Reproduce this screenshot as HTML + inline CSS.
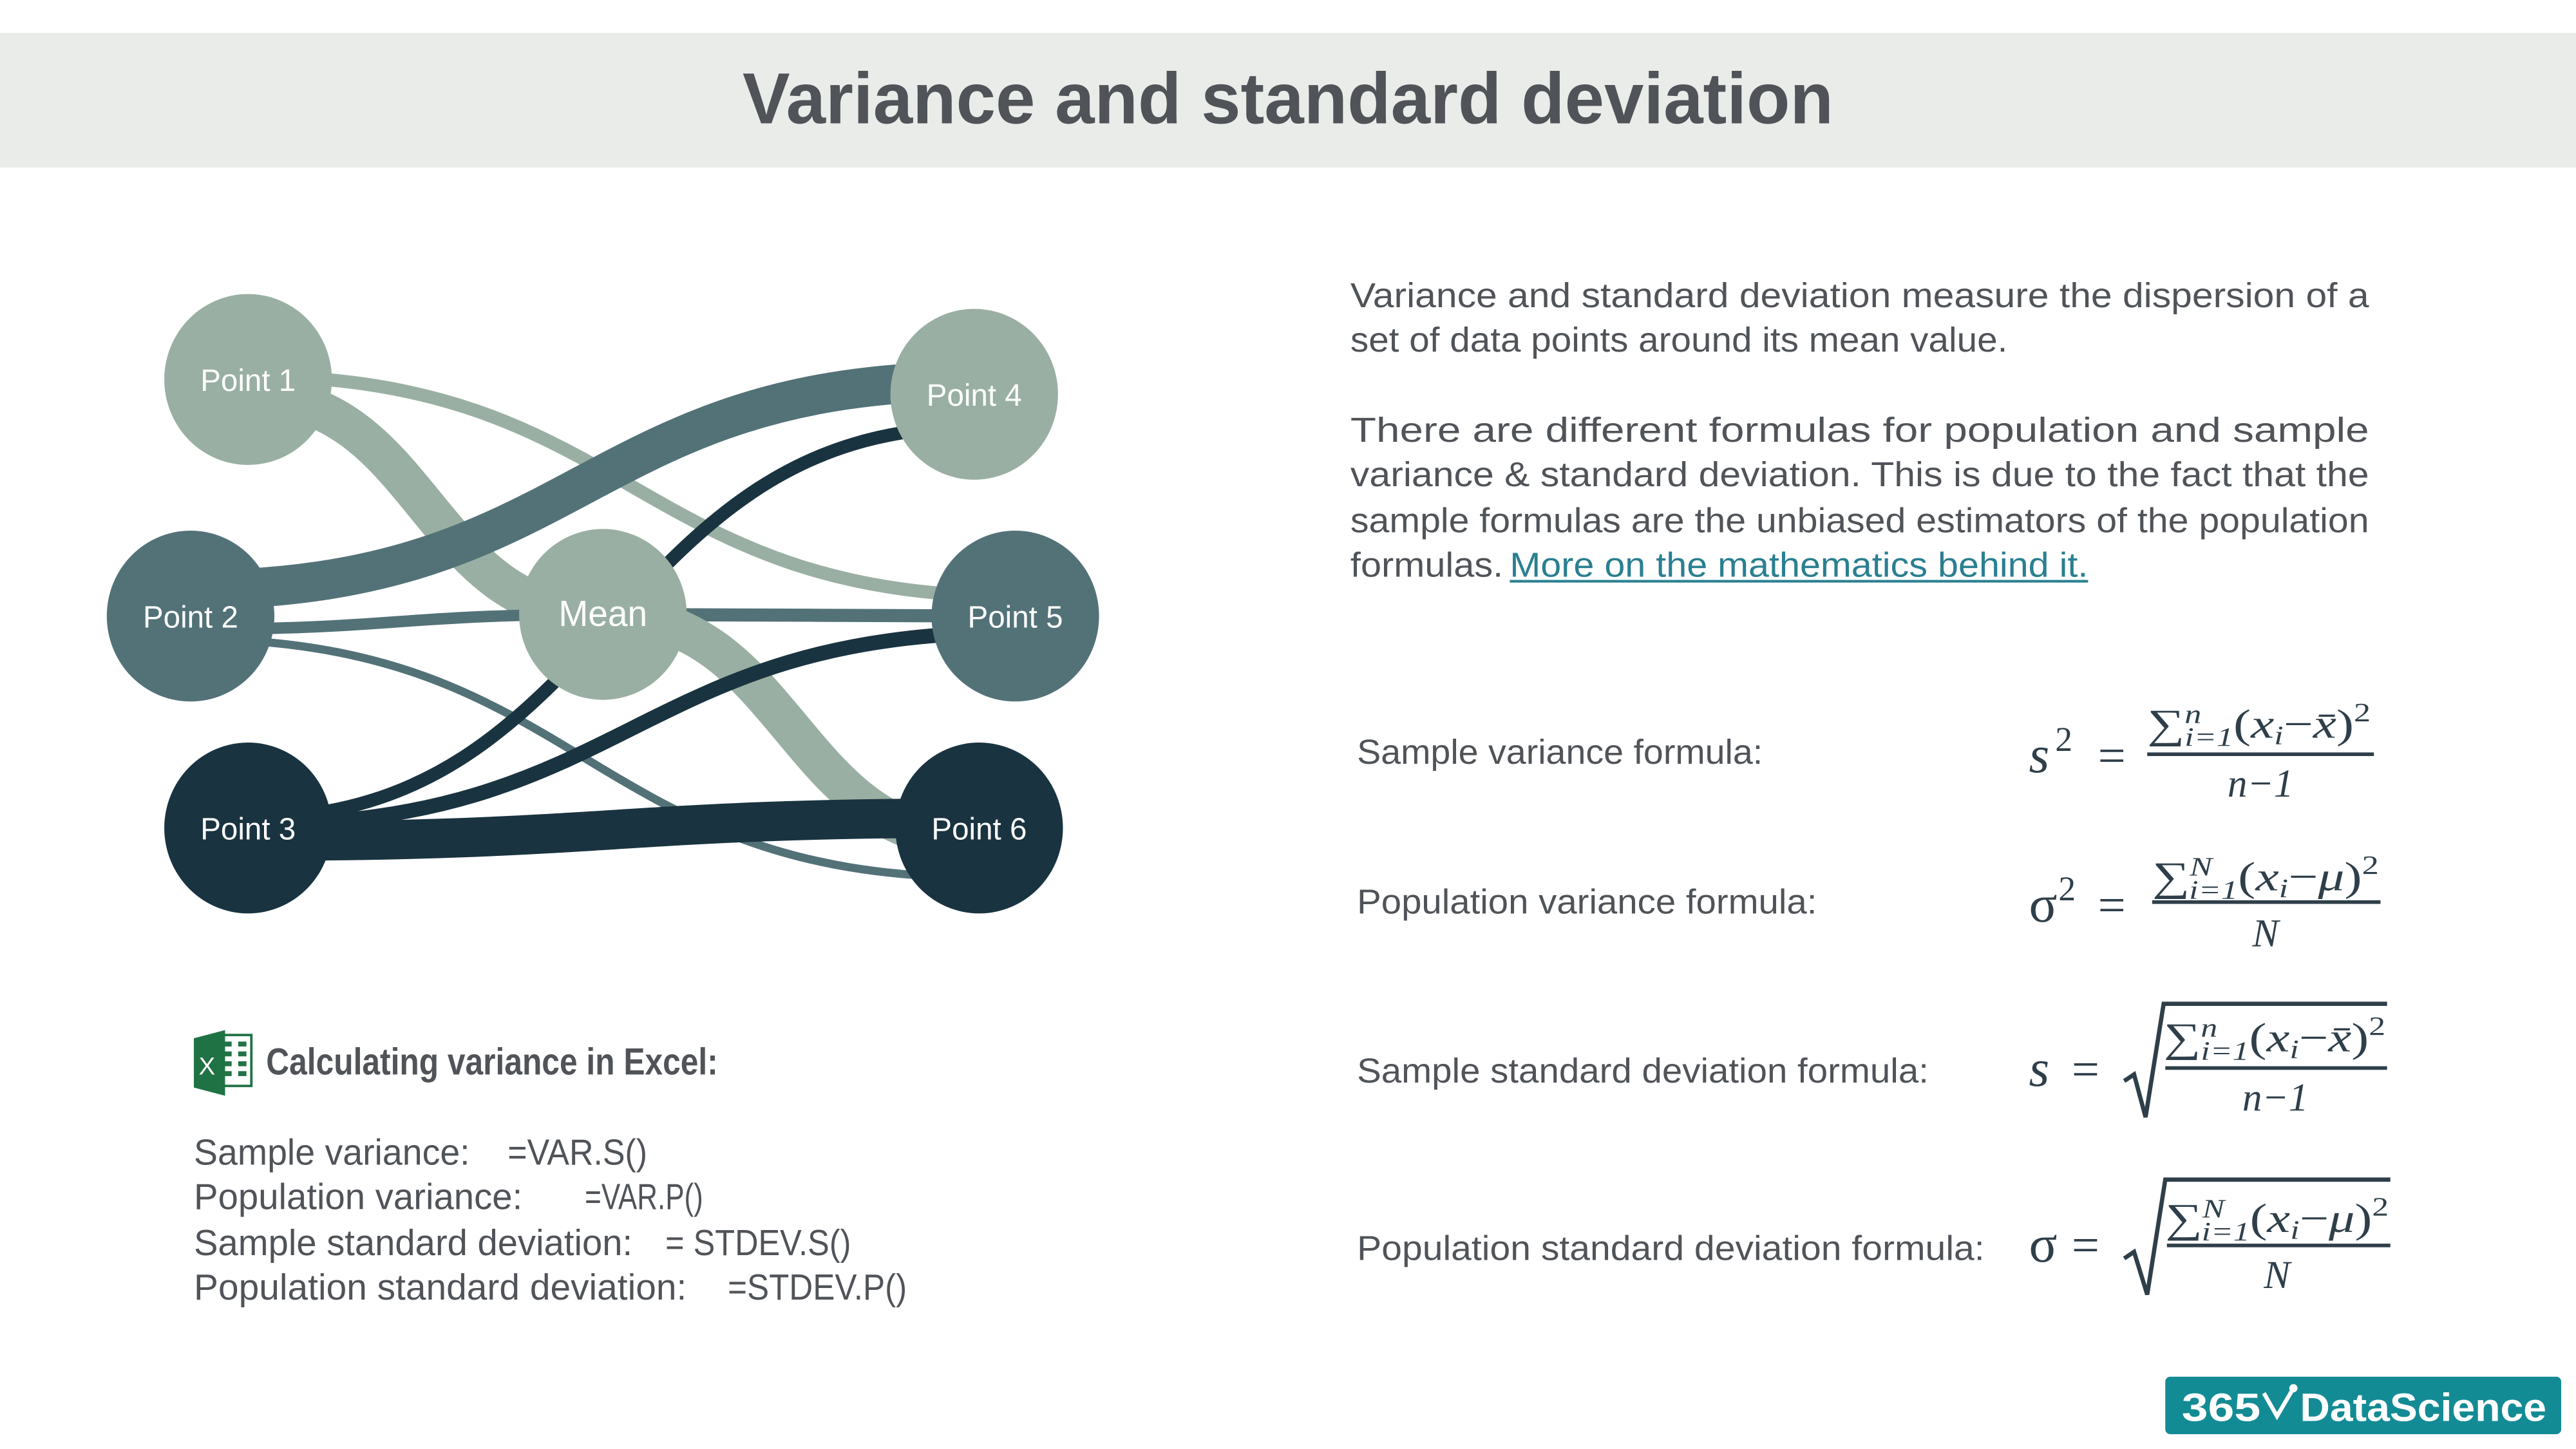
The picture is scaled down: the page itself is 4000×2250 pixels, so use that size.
<!DOCTYPE html>
<html><head><meta charset="utf-8"><style>
html,body{margin:0;padding:0;background:#fff}
svg{display:block}
.t{font-family:"Liberation Sans",sans-serif;fill:#505459}
.m{font-family:"Liberation Serif",serif;fill:#2f3f4a}
</style></head><body>
<svg id="s" width="4000" height="2250" viewBox="0 0 1568 882" xmlns="http://www.w3.org/2000/svg">
<rect x="0" y="20" width="1568" height="82" fill="#e9ece9"/>
<text class="t" x="784" y="75" text-anchor="middle" font-size="44" font-weight="bold" fill="#4d5359" textLength="664" lengthAdjust="spacingAndGlyphs">Variance and standard deviation</text>
<g id="chart"></g>

<g font-size="21">
<text class="t" x="822" y="187" textLength="620" lengthAdjust="spacingAndGlyphs">Variance and standard deviation measure the dispersion of a</text>
<text class="t" x="822" y="214" textLength="400" lengthAdjust="spacingAndGlyphs">set of data points around its mean value.</text>
<text class="t" x="822" y="269" textLength="620" lengthAdjust="spacingAndGlyphs">There are different formulas for population and sample</text>
<text class="t" x="822" y="296" textLength="620" lengthAdjust="spacingAndGlyphs">variance &amp; standard deviation. This is due to the fact that the</text>
<text class="t" x="822" y="324" textLength="620" lengthAdjust="spacingAndGlyphs">sample formulas are the unbiased estimators of the population</text>
<text class="t" x="822" y="351" textLength="93" lengthAdjust="spacingAndGlyphs">formulas.</text>
<text class="t" x="919" y="351" textLength="352" lengthAdjust="spacingAndGlyphs" fill="#2a7f90" style="fill:#2a7f90">More on the mathematics behind it.</text>
<rect x="919" y="353" width="352" height="1.6" fill="#2a7f90"/>
</g>

<g font-size="21">
<text class="t" x="826" y="465" textLength="247" lengthAdjust="spacingAndGlyphs">Sample variance formula:</text>
<text class="t" x="826" y="556" textLength="280" lengthAdjust="spacingAndGlyphs">Population variance formula:</text>
<text class="t" x="826" y="659" textLength="348" lengthAdjust="spacingAndGlyphs">Sample standard deviation formula:</text>
<text class="t" x="826" y="767" textLength="382" lengthAdjust="spacingAndGlyphs">Population standard deviation formula:</text>
</g>

<g>
<g>
<text class="m" x="1235" y="470" font-size="32" font-style="italic">s</text><text class="m" x="1251" y="457" font-size="21">2</text>
<text class="m" x="1277" y="470" font-size="30">=</text>
<text class="m" x="1307" y="449" font-size="25" textLength="136" lengthAdjust="spacingAndGlyphs">∑<tspan font-size="16" font-style="italic" dy="-9">n</tspan><tspan font-size="16" font-style="italic" dx="-8" dy="14">i=1</tspan><tspan dy="-5">(</tspan><tspan font-style="italic">x</tspan><tspan font-size="16" font-style="italic" dy="4">i</tspan><tspan dy="-4">−</tspan><tspan font-style="italic">x̄</tspan><tspan>)</tspan><tspan font-size="16" dy="-10">2</tspan></text>
<rect x="1307" y="458" width="138" height="2.2" fill="#2f3f4a"/>
<text class="m" x="1376" y="485" font-size="24" font-style="italic" text-anchor="middle">n−1</text>
</g>
<g>
<text class="m" x="1235" y="561" font-size="32">σ</text><text class="m" x="1253" y="548" font-size="21">2</text>
<text class="m" x="1277" y="561" font-size="30">=</text>
<text class="m" x="1310" y="542" font-size="25" textLength="138" lengthAdjust="spacingAndGlyphs">∑<tspan font-size="16" font-style="italic" dy="-9">N</tspan><tspan font-size="16" font-style="italic" dx="-11" dy="14">i=1</tspan><tspan dy="-5">(</tspan><tspan font-style="italic">x</tspan><tspan font-size="16" font-style="italic" dy="4">i</tspan><tspan dy="-4">−</tspan><tspan font-style="italic">μ</tspan><tspan>)</tspan><tspan font-size="16" dy="-10">2</tspan></text>
<rect x="1310" y="548" width="139" height="2.2" fill="#2f3f4a"/>
<text class="m" x="1379" y="576" font-size="24" font-style="italic" text-anchor="middle">N</text>
</g>
<g>
<text class="m" x="1235" y="661" font-size="32" font-style="italic">s</text>
<text class="m" x="1261" y="661" font-size="30">=</text>
<path d="M1293,658 L1299,654 L1306,680 L1317,611 L1453,611" fill="none" stroke="#2f3f4a" stroke-width="2.6"/>
<text class="m" x="1317" y="640" font-size="25" textLength="135" lengthAdjust="spacingAndGlyphs">∑<tspan font-size="16" font-style="italic" dy="-9">n</tspan><tspan font-size="16" font-style="italic" dx="-8" dy="14">i=1</tspan><tspan dy="-5">(</tspan><tspan font-style="italic">x</tspan><tspan font-size="16" font-style="italic" dy="4">i</tspan><tspan dy="-4">−</tspan><tspan font-style="italic">x̄</tspan><tspan>)</tspan><tspan font-size="16" dy="-10">2</tspan></text>
<rect x="1318" y="649" width="135" height="2.2" fill="#2f3f4a"/>
<text class="m" x="1385" y="676" font-size="24" font-style="italic" text-anchor="middle">n−1</text>
</g>
<g>
<text class="m" x="1235" y="768" font-size="32">σ</text>
<text class="m" x="1261" y="768" font-size="30">=</text>
<path d="M1293,766 L1299,762 L1307,788 L1318,718 L1455,718" fill="none" stroke="#2f3f4a" stroke-width="2.6"/>
<text class="m" x="1318" y="750" font-size="25" textLength="136" lengthAdjust="spacingAndGlyphs">∑<tspan font-size="16" font-style="italic" dy="-9">N</tspan><tspan font-size="16" font-style="italic" dx="-11" dy="14">i=1</tspan><tspan dy="-5">(</tspan><tspan font-style="italic">x</tspan><tspan font-size="16" font-style="italic" dy="4">i</tspan><tspan dy="-4">−</tspan><tspan font-style="italic">μ</tspan><tspan>)</tspan><tspan font-size="16" dy="-10">2</tspan></text>
<rect x="1319" y="757" width="136" height="2.2" fill="#2f3f4a"/>
<text class="m" x="1386" y="784" font-size="24" font-style="italic" text-anchor="middle">N</text>
</g>
</g>

<g>
<g>
<rect x="130" y="630" width="23" height="31" fill="#fff" stroke="#217346" stroke-width="1.5"/>
<g fill="#217346"><rect x="137" y="634" width="4" height="3"/><rect x="145" y="634" width="5" height="3"/><rect x="137" y="640" width="4" height="3"/><rect x="145" y="640" width="5" height="3"/><rect x="137" y="646" width="4" height="3"/><rect x="145" y="646" width="5" height="3"/><rect x="137" y="652" width="4" height="3"/><rect x="145" y="652" width="5" height="3"/></g>
<polygon points="118,632 137,627 137,667 118,662" fill="#1f7244"/>
<text x="121" y="654" font-family="Liberation Sans,sans-serif" font-size="15" fill="#fff">X</text>
</g>
<text class="t" x="162" y="654" font-size="23" font-weight="bold" fill="#3d4247" textLength="275" lengthAdjust="spacingAndGlyphs">Calculating variance in Excel:</text>
<g font-size="22">
<text class="t" x="118" y="709" textLength="168" lengthAdjust="spacingAndGlyphs">Sample variance:</text>
<text class="t" x="309" y="709" textLength="85" lengthAdjust="spacingAndGlyphs">=VAR.S()</text>
<text class="t" x="118" y="736" textLength="200" lengthAdjust="spacingAndGlyphs">Population variance:</text>
<text class="t" x="356" y="736" textLength="72" lengthAdjust="spacingAndGlyphs">=VAR.P()</text>
<text class="t" x="118" y="764" textLength="267" lengthAdjust="spacingAndGlyphs">Sample standard deviation:</text>
<text class="t" x="405" y="764" textLength="113" lengthAdjust="spacingAndGlyphs">= STDEV.S()</text>
<text class="t" x="118" y="791" textLength="300" lengthAdjust="spacingAndGlyphs">Population standard deviation:</text>
<text class="t" x="443" y="791" textLength="109" lengthAdjust="spacingAndGlyphs">=STDEV.P()</text>
</g>
</g>

<g>
<rect x="1318" y="838" width="241" height="35" rx="3" fill="#138b94"/>
<text x="1328" y="865" font-family="Liberation Sans,sans-serif" font-weight="bold" font-size="24" fill="#fff" textLength="48" lengthAdjust="spacingAndGlyphs">365</text>
<path d="M1378,848 L1386,862 L1396,845" fill="none" stroke="#fff" stroke-width="2.5"/>
<circle cx="1396" cy="845" r="2.5" fill="#fff"/>
<text x="1400" y="865" font-family="Liberation Sans,sans-serif" font-weight="bold" font-size="24" fill="#fff" textLength="150" lengthAdjust="spacingAndGlyphs">DataScience</text>
</g>
</svg>
<script>
// node data
const nodeNames = ['Point 1','Point 2','Point 3','Mean','Point 4','Point 5','Point 6'];
const nodeColumn = [0,0,0,1,2,2,2];
const nodeRow = [0,1,2,1,0,1,2];
// link data: source index, target index, weight
const linkSource = [0,0,1,1,1,3,3,2,2,2];
const linkTarget = [3,5,4,3,6,5,6,4,5,6];
const linkValue  = [24,8,24,7,5,8,24,8,9,24];

// layout / style (not data)
const NS='http://www.w3.org/2000/svg';
const colX=[151,367,593], rowY=[231,375,504];
const xShift=[0,-35,0,0,0,25,3];
const yShift=[0,0,0,-1,9,0,0];
const nodeFill=['#9aafa3','#537278','#1a3340','#9aafa3','#9aafa3','#537278','#1a3340'];
const linkFill=['#9aafa3','#9aafa3','#537278','#537278','#537278','#537278','#9aafa3','#1a3340','#1a3340','#1a3340'];
const srcOff=[10,-2,-16,8,14,0,0,-6,-2,8];
const tgtOff=[0,-12,-8,0,30,0,8,20,10,-6];
function nx(i){return colX[nodeColumn[i]]+xShift[i];}
function ny(i){return rowY[nodeRow[i]]+yShift[i];}
const g=document.getElementById('chart');
for(let k=0;k<linkSource.length;k++){
  const a=linkSource[k], b=linkTarget[k];
  const x1=nx(a), y1=ny(a)+srcOff[k], x2=nx(b), y2=ny(b)+tgtOff[k];
  const mx=(x1+x2)/2;
  const p=document.createElementNS(NS,'path');
  p.setAttribute('d',`M${x1},${y1} C${mx},${y1} ${mx},${y2} ${x2},${y2}`);
  p.setAttribute('fill','none');
  p.setAttribute('stroke',linkFill[k]);
  p.setAttribute('stroke-width',linkValue[k]);
  
  
  g.appendChild(p);
}
for(let i=0;i<nodeNames.length;i++){
  const c=document.createElementNS(NS,'ellipse');
  c.setAttribute('cx',nx(i));c.setAttribute('cy',ny(i));
  c.setAttribute('rx',51);c.setAttribute('ry',52);
  c.setAttribute('fill',nodeFill[i]);
  
  
  g.appendChild(c);
  const t=document.createElementNS(NS,'text');
  t.setAttribute('x',nx(i));t.setAttribute('y',ny(i)+7);
  t.setAttribute('text-anchor','middle');
  t.setAttribute('font-family','Liberation Sans, sans-serif');
  t.setAttribute('font-size',i===3?22:19);
  t.setAttribute('fill','#ffffff');
  t.setAttribute('textLength',i===3?54:58);
  t.setAttribute('lengthAdjust','spacingAndGlyphs');
  
  
  t.textContent=nodeNames[i];
  g.appendChild(t);
}
</script>
</body></html>
